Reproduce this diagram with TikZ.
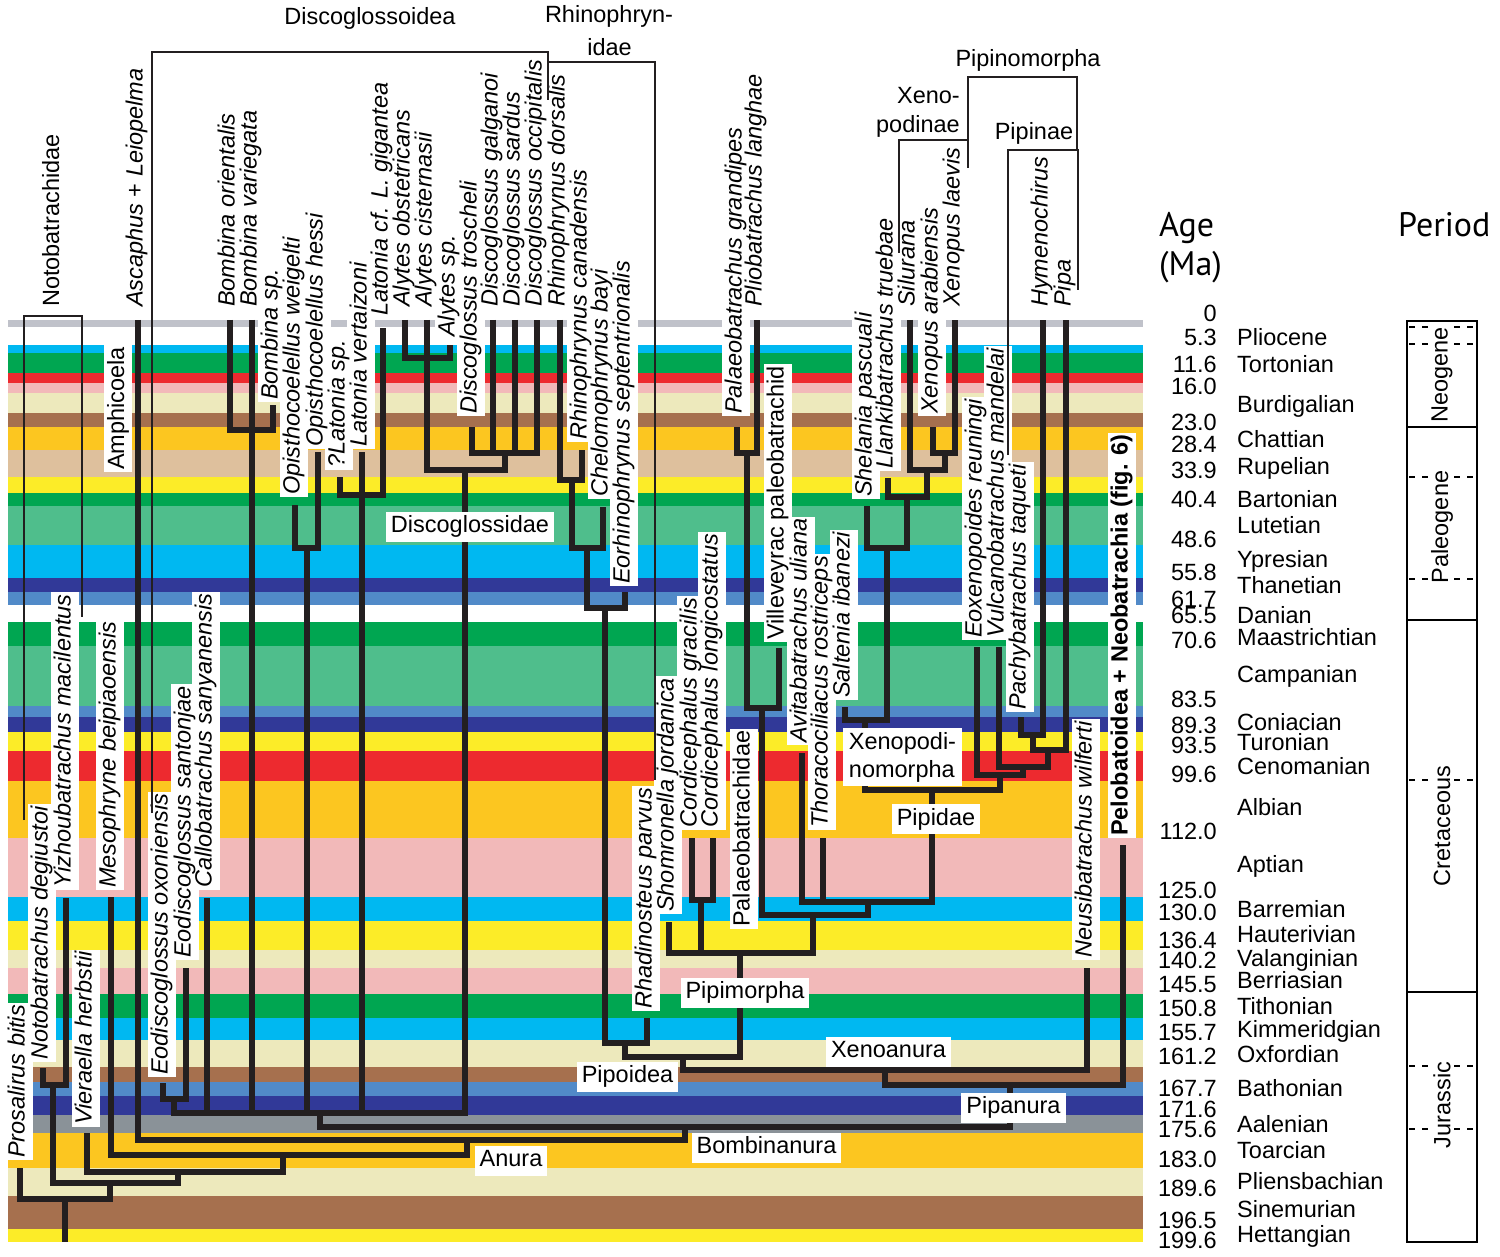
\documentclass[tikz,border=0pt]{standalone}
\usepackage{fontspec}
\setmainfont{Liberation Sans}
\newfontfamily\headfont{PT Sans}
\usepackage{tikz}

\definecolor{ink}{RGB}{35,31,32}
\definecolor{bcyan}{RGB}{0,184,241}
\definecolor{bgreen}{RGB}{0,166,81}
\definecolor{bred}{RGB}{237,42,47}
\definecolor{bpink}{RGB}{242,185,185}
\definecolor{bcream}{RGB}{237,233,188}
\definecolor{bbrown}{RGB}{166,112,78}
\definecolor{borange}{RGB}{252,198,32}
\definecolor{btan}{RGB}{222,192,157}
\definecolor{byellow}{RGB}{252,236,40}
\definecolor{bsea}{RGB}{79,190,140}
\definecolor{bdarkblue}{RGB}{49,57,152}
\definecolor{bmedblue}{RGB}{81,138,200}
\definecolor{bgray}{RGB}{138,146,152}
\definecolor{topgray}{RGB}{192,194,202}

% id / x of branch / top of branch / foot of label / label
\newcommand\taxonlist{%
  pro/20/1168/1160/{Prosalirus bitis},
  not_de/43/1068/1062/{Notobatrachus degiustoi},
  yiz/66/898/890/{Yizhoubatrachus macilentus},
  vie/87/1133/1127/{Vieraella herbstii},
  mes/111/897/890/{Mesophryne beipiaoensis},
  asc/138/320/309/{Ascaphus \upshape+\itshape{} Leiopelma},
  eo_ox/163/1083/1077/{Eodiscoglossus oxoniensis},
  eo_sa/186/968/960/{Eodiscoglossus santonjae},
  cal/207/898/890/{Callobatrachus sanyanensis},
  bo_or/230/320/309/{Bombina orientalis},
  bo_va/252/320/309/{Bombina variegata},
  bo_sp/273/405/402/{Bombina sp.},
  op_we/295/505/497/{Opisthocoelellus weigelti},
  op_he/318/452/449/{Opisthocoelellus hessi},
  la_sp/340/477/470/{?Latonia sp.},
  la_ve/362/452/449/{Latonia vertaizoni},
  la_gi/383/328/318/{Latonia cf. L. gigantea},
  al_ob/405/320/309/{Alytes obstetricans},
  al_ci/427/320/309/{Alytes cisternasii},
  al_sp/450/345/339/{Alytes sp.},
  di_tr/472/427/416/{Discoglossus troscheli},
  di_ga/493/320/309/{Discoglossus galganoi},
  di_sa/515/320/309/{Discoglossus sardus},
  di_oc/537/320/309/{Discoglossus occipitalis},
  rh_do/560/320/309/{Rhinophrynus dorsalis},
  rh_ca/582/450/442/{Rhinophrynus canadensis},
  che/603/507/499/{Chelomophrynus bayi},
  eor/625/592/586/{Eorhinophrynus septentrionalis},
  rha/647/1018/1011/{Rhadinosteus parvus},
  sho/669/922/914/{Shomronella jordanica},
  co_gr/692/838/830/{Cordicephalus gracilis},
  co_lo/713/838/830/{Cordicephalus longicostatus},
  pa_gr/737/427/416/{Palaeobatrachus grandipes},
  pli/757/320/309/{Pliobatrachus langhae},
  pbd/745/929/929/{\upshape Palaeobatrachidae},
  vil/779/648/642/{\upshape Villeveyrac paleobatrachid},
  avi/802/753/745/{Avitabatrachus uliana},
  tho/823/838/830/{Thoracociliacus rostriceps},
  sal/845/707/700/{Saltenia ibanezi},
  she/867/506/499/{Shelania pascuali},
  lla/888/478/471/{Llankibatrachus truebae},
  sil/910/320/309/{Silurana},
  xe_ar/933/427/416/{Xenopus arabiensis},
  xe_la/955/320/309/{Xenopus laevis},
  eox/977/647/640/{Eoxenopoides reuningi},
  vul/999/647/640/{Vulcanobatrachus mandelai},
  pac/1021/717/712/{Pachybatrachus taqueti},
  hym/1043/320/309/{Hymenochirus},
  pip/1066/320/309/{Pipa},
  neu/1087/968/960/{Neusibatrachus wilferti},
  pel/1123/845/838/{\upshape\bfseries Pelobatoidea + Neobatrachia (fig. 6)},
  ntb/54.5/309/309/{\upshape Notobatrachidae},
  amp/119.5/472/472/{\upshape Amphicoela}%
}

\begin{document}
\begin{tikzpicture}[
    x=1pt, y=-1pt,
    every node/.style={font=\fontsize{23.5}{28}\selectfont, inner sep=0pt},
    treebranch/.style={draw=ink, line width=6.5pt, line join=miter},
    cladebracket/.style={draw=ink, line width=2.5pt, line join=miter},
    tipshape/.style={rotate=90, anchor=west, inner xsep=2pt, inner ysep=3pt,
      text height=17pt, text depth=5pt, font=\itshape\fontsize{23.5}{28}\selectfont},
    taxbox/.style={tipshape, fill=white, text=white},
    taxon/.style={tipshape},
    cladename/.style={fill=white, inner xsep=5pt, inner ysep=4pt, text height=17pt, text depth=5pt},
    agenum/.style={anchor=base east},
    stagename/.style={anchor=base west},
    headline/.style={anchor=base west, font=\headfont\fontsize{34}{40}\selectfont},
    periodname/.style={rotate=90}
  ]
  \useasboundingbox (0,0) rectangle (1500,1257);

  % stage bands
  \foreach \ya/\yb/\col in {345/353/bcyan, 353/373/bgreen, 373/383/bred, 383/393/bpink,
      393/413/bcream, 413/427/bbrown, 427/450/borange, 450/477/btan, 477/493/byellow,
      493/506/bgreen, 506/545/bsea, 545/578/bcyan, 578/592/bdarkblue, 592/605/bmedblue,
      622/646/bgreen, 646/706/bsea, 706/717/bmedblue, 717/732/bdarkblue, 732/751/byellow,
      751/781/bred, 781/838/borange, 838/897/bpink, 897/921/bcyan, 921/950/byellow,
      950/968/bcream, 968/994/bpink, 994/1018/bgreen, 1018/1040/bcyan, 1040/1067/bcream,
      1067/1082/bbrown, 1082/1096/bmedblue, 1096/1115/bdarkblue, 1115/1133/bgray,
      1133/1168/borange, 1168/1196/bcream, 1196/1229/bbrown, 1229/1242/byellow}
    \fill[\col] (8,\ya) rectangle (1143,\yb);
  \fill[topgray] (8,320) rectangle (1143,327);

  % tips
  \foreach \tid/\x/\yt/\yl/\ttext in \taxonlist
    \coordinate (\tid) at (\x,\yt);

  % internal nodes
  \foreach \nid/\x/\y in {n_noto/53/1085, n_eodi/174/1099, n_bomb/252/430, n_opis/307/548,
      n_lato/362/495, n_alyt/427/358, n_disc/505/453, n_dgl/465/470, n_dgo/320/1113,
      n_rh1/572/480, n_rh2/587/548, n_rh3/605/608, n_rhin/625/1043, n_cord/701/900,
      n_pal1/747/453, n_pal2/762/708, n_xe1/945/453, n_xe2/927/470, n_xe3/907/497,
      n_xe4/887/548, n_xnm/865/720, n_pi1/1033/735, n_pi2/1048/750, n_pi3/1023/767,
      n_pi4/1000/775, n_pipd/932/790, n_pi5/868/902, n_pi6/813/915, n_pim/740/953,
      n_pipo/683/1057, n_xeno/885/1070, n_pipa/1010/1085, n_bomn/685/1127,
      n_anu/467/1140, n_a1/283/1155, n_a2/178/1172, n_a3/110/1183, n_root/65/1199,
      root_base/65/1242}
    \coordinate (\nid) at (\x,\y);

  % Discoglossoidea
  \draw[treebranch] (eo_ox) |- (n_eodi) -| (eo_sa);
  \draw[treebranch] (bo_or) |- (n_bomb) -| (bo_sp);
  \draw[treebranch] (bo_va) -- (n_bomb);
  \draw[treebranch] (op_we) |- (n_opis) -| (op_he);
  \draw[treebranch] (la_sp) |- (n_lato) -| (la_gi);
  \draw[treebranch] (la_ve) -- (n_lato);
  \draw[treebranch] (al_ob) |- (n_alyt) -| (al_sp);
  \draw[treebranch] (al_ci) -- (n_alyt);
  \draw[treebranch] (di_tr) |- (n_disc) -| (di_oc);
  \draw[treebranch] (di_ga) -- (di_ga |- n_disc);
  \draw[treebranch] (di_sa) -- (di_sa |- n_disc);
  \draw[treebranch] (n_alyt) |- (n_dgl) -| (n_disc);
  \draw[treebranch] (n_eodi) |- (n_dgo) -| (n_dgl);
  \draw[treebranch] (cal) -- (cal |- n_dgo);
  \draw[treebranch] (n_bomb) -- (n_bomb |- n_dgo);
  \draw[treebranch] (n_opis) -- (n_opis |- n_dgo);
  \draw[treebranch] (n_lato) -- (n_lato |- n_dgo);
  % Pipoidea
  \draw[treebranch] (rh_do) |- (n_rh1) -| (rh_ca);
  \draw[treebranch] (n_rh1) |- (n_rh2) -| (che);
  \draw[treebranch] (n_rh2) |- (n_rh3) -| (eor);
  \draw[treebranch] (n_rh3) |- (n_rhin) -| (rha);
  \draw[treebranch] (co_gr) |- (n_cord) -| (co_lo);
  \draw[treebranch] (pa_gr) |- (n_pal1) -| (pli);
  \draw[treebranch] (n_pal1) |- (n_pal2) -| (vil);
  \draw[treebranch] (xe_ar) |- (n_xe1) -| (xe_la);
  \draw[treebranch] (sil) |- (n_xe2) -| (n_xe1);
  \draw[treebranch] (lla) |- (n_xe3) -| (n_xe2);
  \draw[treebranch] (she) |- (n_xe4) -| (n_xe3);
  \draw[treebranch] (sal) |- (n_xnm) -| (n_xe4);
  \draw[treebranch] (pac) |- (n_pi1) -| (hym);
  \draw[treebranch] (n_pi1) |- (n_pi2) -| (pip);
  \draw[treebranch] (vul) |- (n_pi3) -| (n_pi2);
  \draw[treebranch] (eox) |- (n_pi4) -| (n_pi3);
  \draw[treebranch] (n_xnm) |- (n_pipd) -| (n_pi4);
  \draw[treebranch] (avi) |- (n_pi5) -| (n_pipd);
  \draw[treebranch] (tho) -- (tho |- n_pi5);
  \draw[treebranch] (n_pal2) |- (n_pi6) -| (n_pi5);
  \draw[treebranch] (sho) |- (n_pim) -| (n_pi6);
  \draw[treebranch] (n_cord) -- (n_cord |- n_pim);
  \draw[treebranch] (n_rhin) |- (n_pipo) -| (n_pim);
  % towards the root
  \draw[treebranch] (n_pipo) |- (n_xeno) -| (neu);
  \draw[treebranch] (n_xeno) |- (n_pipa) -| (pel);
  \draw[treebranch] (n_dgo) |- (n_bomn) -| (n_pipa);
  \draw[treebranch] (asc) |- (n_anu) -| (n_bomn);
  \draw[treebranch] (mes) |- (n_a1) -| (n_anu);
  \draw[treebranch] (vie) |- (n_a2) -| (n_a1);
  \draw[treebranch] (not_de) |- (n_noto) -| (yiz);
  \draw[treebranch] (n_noto) |- (n_a3) -| (n_a2);
  \draw[treebranch] (pro) |- (n_root) -| (n_a3);
  \draw[treebranch] (n_root) -- (root_base);

  % white label boxes, then the names
  \foreach \tid/\x/\yt/\yl/\ttext in \taxonlist
    \node[taxbox] at (\x-1.5,\yl) {\ttext};
  \foreach \tid/\x/\yt/\yl/\ttext in \taxonlist
    \node[taxon] (\tid_l) at (\x-1.5,\yl) {\ttext};

  \node[cladename] (l_dgl) at (470,526.5) {Discoglossidae};
  \node[fill=white, inner xsep=6pt, inner ysep=4pt, align=left] (l_xnm) at (902.5,757) {Xenopodi-\\nomorpha};
  \node[cladename] (l_pipd) at (936,819) {Pipidae};
  \node[cladename] (l_pim) at (745,992.5) {Pipimorpha};
  \node[cladename] (l_xeno) at (888.5,1051.5) {Xenoanura};
  \node[cladename] (l_pipo) at (627.5,1076.5) {Pipoidea};
  \node[cladename] (l_pipa) at (1013.5,1107.5) {Pipanura};
  \node[cladename] (l_bomn) at (766.5,1147.5) {Bombinanura};
  \node[cladename] (l_anu) at (511,1160.5) {Anura};

  % brackets of named groups
  \coordinate (nb_l) at (24,820);
  \coordinate (nb_top) at (53,316);
  \coordinate (nb_r) at (82,617);
  \coordinate (dg_l) at (152,813);
  \coordinate (dg_top) at (350,52);
  \coordinate (dg_r) at (548,100);
  \coordinate (rh_top) at (600,62);
  \coordinate (rh_r) at (655,780);
  \coordinate (xp_l) at (899,253);
  \coordinate (xp_top) at (930,140);
  \coordinate (xp_r) at (968,168);
  \coordinate (pm_top) at (1020,77);
  \coordinate (pm_r) at (1077,150);
  \coordinate (pn_l) at (1008,455);
  \coordinate (pn_top) at (1040,150);
  \coordinate (pn_r) at (1078,290);
  \draw[cladebracket] (nb_l) |- (nb_top) -| (nb_r);
  \draw[cladebracket] (dg_l) |- (dg_top) -| (dg_r);
  \draw[cladebracket] (dg_r |- rh_top) -| (rh_r);
  \draw[cladebracket] (xp_l) |- (xp_top) -| (xp_r);
  \draw[cladebracket] (xp_r) |- (pm_top) -| (pm_r);
  \draw[cladebracket] (pn_l) |- (pn_top) -| (pn_r);

  \node[anchor=base] (t_dgo) at (370,25) {Discoglossoidea};
  \node[anchor=base] (t_rh1) at (609,23) {Rhinophryn-};
  \node[anchor=base] (t_rh2) at (609.5,56) {idae};
  \node[anchor=base] (t_pm) at (1028,67) {Pipinomorpha};
  \node[anchor=base east] (t_xp1) at (960,104) {Xeno-};
  \node[anchor=base east] (t_xp2) at (960,133) {podinae};
  \node[anchor=base] (t_pn) at (1034,140) {Pipinae};

  % time scale
  \node[headline] (h_age) at (1159,237) {Age};
  \node[headline] (h_ma) at (1159,276) {(Ma)};
  \node[headline] (h_per) at (1398,237) {Period};
  \foreach \v/\yb [count=\i] in {0/322, 5.3/345, 11.6/373, 16.0/395, 23.0/430, 28.4/452,
      33.9/478, 40.4/507, 48.6/547, 55.8/580, 61.7/607, 65.5/623, 70.6/648, 83.5/707,
      89.3/733, 93.5/753, 99.6/782, 112.0/839, 125.0/898, 130.0/920, 136.4/948,
      140.2/968, 145.5/992, 150.8/1016, 155.7/1040, 161.2/1064, 167.7/1096,
      171.6/1117, 175.6/1137, 183.0/1167, 189.6/1196, 196.5/1228, 199.6/1248}
    \node[agenum] (age_\i) at (1217,\yb) {\v};
  \foreach \s/\yb [count=\i] in {Pliocene/345, Tortonian/373, Burdigalian/412, Chattian/447,
      Rupelian/474, Bartonian/507, Lutetian/533, Ypresian/567, Thanetian/593, Danian/623,
      Maastrichtian/645, Campanian/682, Coniacian/730, Turonian/750, Cenomanian/774,
      Albian/815, Aptian/872, Barremian/917, Hauterivian/942, Valanginian/966,
      Berriasian/988, Tithonian/1014, Kimmeridgian/1037, Oxfordian/1062, Bathonian/1096,
      Aalenian/1132, Toarcian/1158, Pliensbachian/1189, Sinemurian/1217, Hettangian/1242}
    \node[stagename] (stage_\i) at (1237,\yb) {\s};

  % periods
  \draw[line width=2.5pt] (1407,321) rectangle (1477,1242);
  \foreach \yy in {427,620,992}
    \draw[line width=2.5pt] (1407,\yy) -- (1477,\yy);
  \foreach \yy in {327,344,477,579,780,1066,1129} {
    \draw[line width=2.5pt, dash pattern=on 6pt off 7pt] (1409,\yy) -- (1432,\yy);
    \draw[line width=2.5pt, dash pattern=on 6pt off 7pt] (1454,\yy) -- (1477,\yy);
  }
  \node[periodname] (p_neo) at (1442,375) {Neogene};
  \node[periodname] (p_pal) at (1442,527) {Paleogene};
  \node[periodname] (p_cre) at (1442,826) {Cretaceous};
  \node[periodname] (p_jur) at (1442,1105) {Jurassic};
\end{tikzpicture}
\end{document}
